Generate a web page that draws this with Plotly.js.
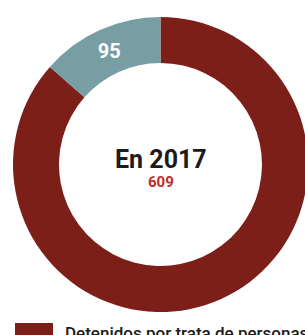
<!DOCTYPE html>
<html>
<head>
<meta charset="utf-8">
<script src="https://cdn.plot.ly/plotly-3.0.1.min.js"></script>
<style>
html,body{margin:0;padding:0;background:#fff;overflow:hidden;width:305px;height:335px;}
#chart{width:308px;height:335px;}
</style>
</head>
<body>
<div id="chart"></div>
<script>
// Data
var labels = ["Detenidos por trata de personas", "Otros"];
var values = [609, 95];
var sliceColors = ["#7c1f19", "#769ea3"];
var centerTitle = "En 2017";
var centerValue = values[0];

var trace = {
  type: "pie",
  labels: labels,
  values: values,
  hole: 0.688,
  sort: false,
  direction: "counterclockwise",
  rotation: 0,
  marker: {colors: sliceColors, line: {width: 0}},
  texttemplate: ["", "%{value}"],
  textposition: "inside",
  insidetextorientation: "horizontal",
  textfont: {family: "Roboto", size: 20, color: "#ffffff", weight: "bold"},
  hoverinfo: "label+value",
  showlegend: false
};

var layout = {
  width: 308,
  height: 335,
  margin: {l: 13, r: 0, t: 17, b: 23},
  paper_bgcolor: "#ffffff",
  plot_bgcolor: "#ffffff",
  showlegend: false,
  annotations: [
    {text: "<b>" + centerTitle + "</b>", x: 0.5, y: 0.516, xref: "paper", yref: "paper",
     xanchor: "center", yanchor: "middle", showarrow: false,
     font: {family: "Roboto", size: 25, color: "#1c1a1a"}},
    {text: "<b>" + centerValue + "</b>", x: 0.5, y: 0.44, xref: "paper", yref: "paper",
     xanchor: "center", yanchor: "middle", showarrow: false,
     font: {family: "Roboto", size: 15, color: "#c42a2a"}},
    {text: labels[0], x: 0.1695, y: -0.031, xref: "paper", yref: "paper",
     xanchor: "left", yanchor: "top", showarrow: false,
     font: {family: "Roboto", size: 17, color: "#1c1a1a", weight: 500}}
  ],
  shapes: [
    {type: "rect", xref: "paper", yref: "paper", x0: 0.0068, x1: 0.1356, y0: -0.1, y1: -0.0373,
     fillcolor: sliceColors[0], line: {width: 0}}
  ]
};

Plotly.newPlot("chart", [trace], layout, {displayModeBar: false, staticPlot: true});
</script>
</body>
</html>
